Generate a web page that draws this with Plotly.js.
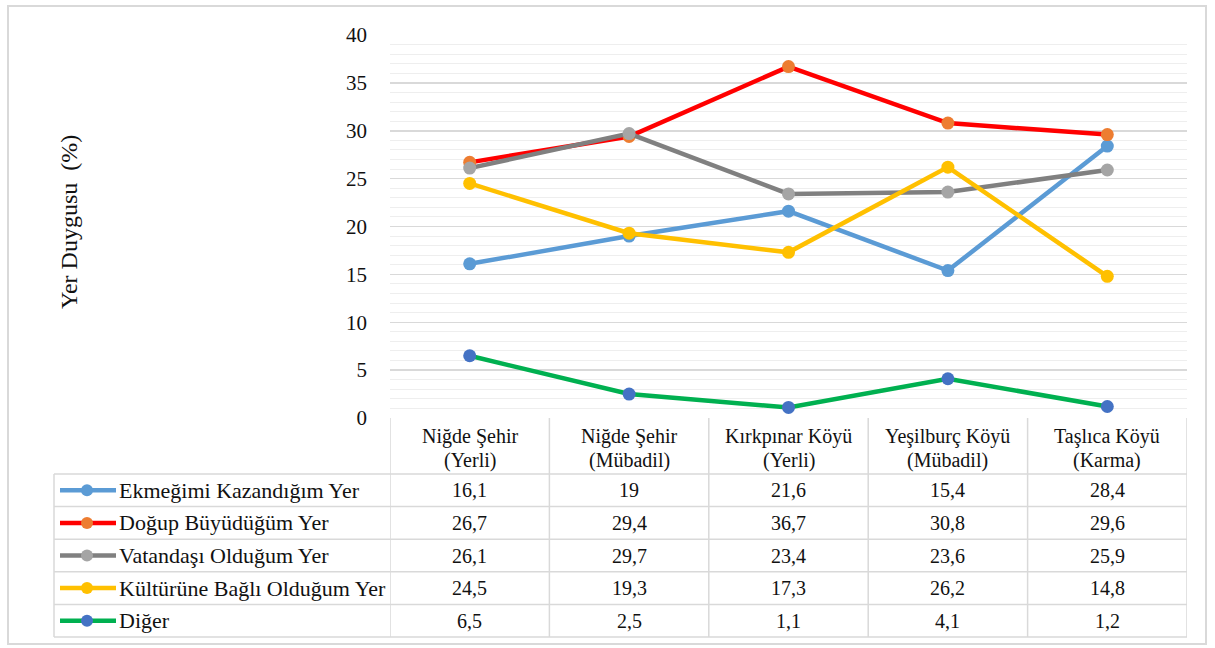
<!DOCTYPE html>
<html>
<head>
<meta charset="utf-8">
<script src="https://cdn.plot.ly/plotly-3.0.1.min.js"></script>
<style>html,body{margin:0;padding:0;background:#fff;}#chart{width:1215px;height:648px;}</style>
</head>
<body>
<div id="chart"></div>
<script>
const categories = [
  ["Niğde Şehir", "(Yerli)"],
  ["Niğde Şehir", "(Mübadil)"],
  ["Kırkpınar Köyü", "(Yerli)"],
  ["Yeşilburç Köyü", "(Mübadil)"],
  ["Taşlıca Köyü", "(Karma)"]
];
const seriesNames = ["Ekmeğimi Kazandığım Yer", "Doğup Büyüdüğüm Yer", "Vatandaşı Olduğum Yer", "Kültürüne Bağlı Olduğum Yer", "Diğer"];
const ekmegimi = [16.1, 19, 21.6, 15.4, 28.4];
const dogup = [26.7, 29.4, 36.7, 30.8, 29.6];
const vatandasi = [26.1, 29.7, 23.4, 23.6, 25.9];
const kulturune = [24.5, 19.3, 17.3, 26.2, 14.8];
const diger = [6.5, 2.5, 1.1, 4.1, 1.2];
const yTicks = [0, 5, 10, 15, 20, 25, 30, 35, 40];
const yTitle = "Yer Duygusu  (%)";

const seriesValues = [ekmegimi, dogup, vatandasi, kulturune, diger];
const lineColors = ["#5B9BD5", "#FF0000", "#808080", "#FFC000", "#00B050"];
const markerColors = ["#5B9BD5", "#ED7D31", "#A5A5A5", "#FFC000", "#4472C4"];

const W = 1215, H = 648;
const L = 390, R = 1187, T = 35, B = 418;
const px = x => (x - L) / (R - L);
const py = y => (B - y) / (B - T);

const xIdx = categories.map((c, i) => i);
const traces = seriesValues.map((vals, s) => ({
  type: "scatter", mode: "lines+markers",
  x: xIdx, y: vals, name: seriesNames[s],
  line: {color: lineColors[s], width: 4.5},
  marker: {color: markerColors[s], size: 13},
  showlegend: false, hoverinfo: "skip"
}));

const FAM = "Liberation Serif";
const TXT = "#111111";
const gridC = "#d9d9d9";
const shapes = [];
const annotations = [];

shapes.push({type: "rect", xref: "paper", yref: "paper", x0: px(8), x1: px(1206), y0: py(6), y1: py(644), line: {color: "#d9d9d9", width: 2}, layer: "below"});

const colEdges = categories.map((c, i) => i - 0.5).concat([categories.length - 0.5]);
const headerBottom = 474;
const rowH = 32.6;
const rowEdges = [headerBottom];
seriesNames.forEach((n, i) => rowEdges.push(headerBottom + rowH * (i + 1)));
const tableBottom = rowEdges[rowEdges.length - 1];
const legendLeft = 54;
const lc = {color: gridC, width: 1.5};

colEdges.forEach(e => shapes.push({type: "line", xref: "x", yref: "paper", x0: e, x1: e, y0: py(B), y1: py(tableBottom), line: lc}));
shapes.push({type: "line", xref: "paper", yref: "paper", x0: px(legendLeft), x1: px(legendLeft), y0: py(headerBottom), y1: py(tableBottom), line: lc});
rowEdges.forEach(r => shapes.push({type: "line", xref: "paper", yref: "paper", x0: px(legendLeft), x1: 1, y0: py(r), y1: py(r), line: lc}));

categories.forEach((c, i) => {
  annotations.push({xref: "x", yref: "paper", x: i, y: py(437), text: c[0], showarrow: false, font: {family: FAM, size: 20, color: TXT}, yanchor: "middle"});
  annotations.push({xref: "x", yref: "paper", x: i, y: py(460), text: c[1], showarrow: false, font: {family: FAM, size: 20, color: TXT}, yanchor: "middle"});
});

seriesNames.forEach((n, s) => {
  const cy = (rowEdges[s] + rowEdges[s + 1]) / 2;
  shapes.push({type: "line", xref: "paper", yref: "paper", x0: px(60), x1: px(116), y0: py(cy), y1: py(cy), line: {color: lineColors[s], width: 4.5}});
  shapes.push({type: "circle", xref: "paper", yref: "paper", x0: px(81), x1: px(93), y0: py(cy + 6), y1: py(cy - 6), fillcolor: markerColors[s], line: {width: 0}});
  annotations.push({xref: "paper", yref: "paper", x: px(117), y: py(cy), text: n, showarrow: false, xanchor: "left", yanchor: "middle", font: {family: FAM, size: 22, color: TXT}});
  seriesValues[s].forEach((v, i) => {
    annotations.push({xref: "x", yref: "paper", x: i, y: py(cy), text: String(v).replace(".", ","), showarrow: false, yanchor: "middle", font: {family: FAM, size: 20, color: TXT}});
  });
});

annotations.push({xref: "paper", yref: "paper", x: px(54), y: py(222), text: yTitle, textangle: -90, showarrow: false, font: {family: FAM, size: 24, color: TXT}});

const layout = {
  width: W, height: H,
  margin: {l: L, r: W - R, t: T, b: H - B, pad: 0},
  paper_bgcolor: "#fff", plot_bgcolor: "#fff",
  showlegend: false,
  font: {family: FAM, color: TXT},
  xaxis: {range: [-0.5, categories.length - 0.5], showticklabels: false, showgrid: false, zeroline: false, showline: false, fixedrange: true},
  yaxis: {range: [0, 40], tickvals: yTicks, ticktext: yTicks.map(String), showgrid: true, gridcolor: gridC, gridwidth: 1.5, zeroline: false, showline: false,
    minor: {dtick: 1, showgrid: true, gridcolor: "#eeeeee", gridwidth: 1},
    ticklabelstandoff: 22, tickfont: {family: FAM, size: 21, color: TXT}},
  shapes: shapes,
  annotations: annotations
};

Plotly.newPlot("chart", traces, layout, {displayModeBar: false, staticPlot: true});
</script>
</body>
</html>
